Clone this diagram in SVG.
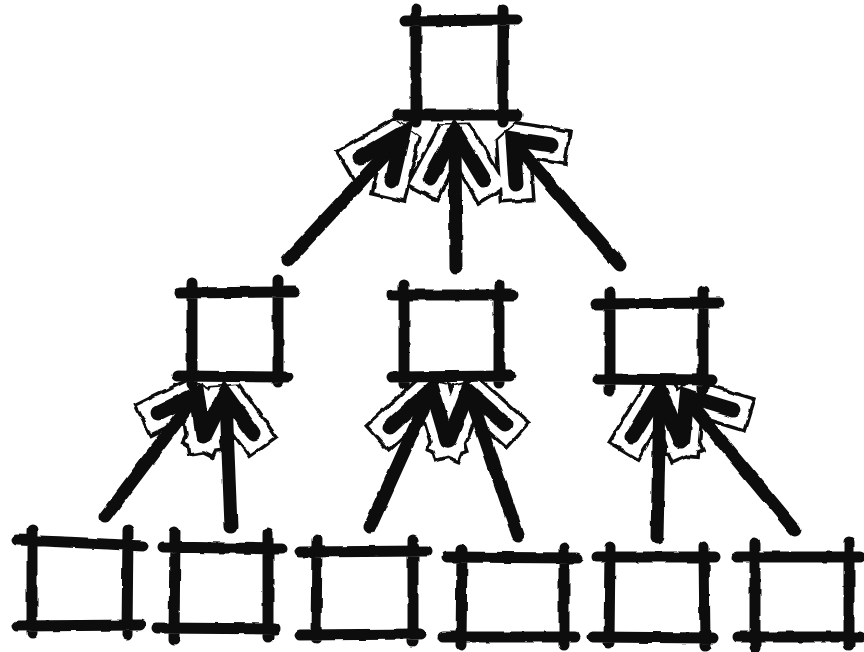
<svg xmlns="http://www.w3.org/2000/svg" width="864" height="652" viewBox="0 0 864 652">
  <defs>
    <!-- slight wobble so strokes read as ink drawn by hand -->
    <filter id="ink" filterUnits="userSpaceOnUse" x="0" y="0" width="864" height="652">
      <feTurbulence type="fractalNoise" baseFrequency="0.06" numOctaves="2" seed="7" result="noise"/>
      <feDisplacementMap in="SourceGraphic" in2="noise" scale="3.5" xChannelSelector="R" yChannelSelector="G"/>
    </filter>
    <filter id="rough" filterUnits="userSpaceOnUse" x="0" y="0" width="864" height="652">
      <feTurbulence type="fractalNoise" baseFrequency="0.07" numOctaves="2" seed="3" result="noise"/>
      <feDisplacementMap in="SourceGraphic" in2="noise" scale="4.5" xChannelSelector="R" yChannelSelector="G"/>
    </filter>
    <style>
      .box { fill: none; stroke: #111111; stroke-width: 11; stroke-linecap: round; }
      .shaft { fill: none; stroke: #111111; stroke-width: 13; stroke-linecap: round; }
      .head { fill: none; stroke: #111111; stroke-width: 15; stroke-linecap: round; stroke-linejoin: miter; stroke-miterlimit: 3; }
      .halo-o { fill: none; stroke: #111111; stroke-width: 37; stroke-linecap: square; stroke-linejoin: bevel; }
      .halo-i { fill: none; stroke: #ffffff; stroke-width: 30; stroke-linecap: square; stroke-linejoin: bevel; }
    </style>
  </defs>

  <rect x="0" y="0" width="864" height="652" fill="#ffffff"/>

  <!-- connectors: arrows pointing from children up to parents -->
  <g id="connectors">
    <!-- white cut-out outlines behind the arrowheads -->
    <g id="halos" filter="url(#rough)">
      <path class="halo-o" d="M360,158 L403,133 L392,181 M430,178 L455,132 L484,180 M551,145 L513,139 L516,184"/>
      <path class="halo-o" d="M158,413 L197,394 L203,436 M205,435 L225,394 L253,433"/>
      <path class="halo-o" d="M390,427 L432,389 L447,440 M449,440 L468,391 L505,424"/>
      <path class="halo-o" d="M632,437 L660,391 L681,441 M733,410 L687,396 L683,439"/>
      <path class="halo-i" d="M360,158 L403,133 L392,181 M430,178 L455,132 L484,180 M551,145 L513,139 L516,184"/>
      <path class="halo-i" d="M158,413 L197,394 L203,436 M205,435 L225,394 L253,433"/>
      <path class="halo-i" d="M390,427 L432,389 L447,440 M449,440 L468,391 L505,424"/>
      <path class="halo-i" d="M632,437 L660,391 L681,441 M733,410 L687,396 L683,439"/>
    </g>
    <g id="arrows" filter="url(#ink)">
      <!-- middle row to top -->
      <path class="shaft" d="M288,260 L398,141"/>
      <path class="head" d="M360,158 L403,133 L392,181"/>
      <path class="shaft" d="M456,268 L455,140"/>
      <path class="head" d="M430,178 L455,132 L484,180"/>
      <path class="shaft" d="M620,265 L517,146"/>
      <path class="head" d="M551,145 L513,139 L516,184"/>
      <!-- leaves to left middle -->
      <path class="shaft" d="M105,517 L193,400"/>
      <path class="head" d="M158,413 L197,394 L203,436"/>
      <path class="shaft" d="M231,527 L226,400"/>
      <path class="head" d="M205,435 L225,394 L253,433"/>
      <!-- leaves to centre middle -->
      <path class="shaft" d="M370,527 L429,396"/>
      <path class="head" d="M390,427 L432,389 L447,440"/>
      <path class="shaft" d="M518,535 L471,398"/>
      <path class="head" d="M449,440 L468,391 L505,424"/>
      <!-- leaves to right middle -->
      <path class="shaft" d="M657,537 L660,398"/>
      <path class="head" d="M632,437 L660,391 L681,441"/>
      <path class="shaft" d="M795,530 Q745,470 689,402"/>
      <path class="head" d="M733,410 L687,396 L683,439"/>
    </g>
  </g>

  <!-- nodes: squares with overshooting corners -->
  <g id="nodes" filter="url(#ink)">
    <g id="n-top"><path class="box" d="M405,21 L517,20 M397,115 L517,115 M416,9 L416,122 M503,9 L503,122"/></g>

    <g id="n-mid-1"><path class="box" d="M180,293 L295,292 M177,376 L288,377 M192,283 L192,384 M278,280 L278,381"/></g>
    <g id="n-mid-2"><path class="box" d="M392,295 L513,295 M392,377 L510,376 M404,285 L404,384 M499,285 L499,383"/></g>
    <g id="n-mid-3"><path class="box" d="M597,304 L720,303 M598,379 L712,380 M610,292 L610,391 M703,291 L703,389"/></g>

    <g id="n-leaf-1"><path class="box" d="M17,540 Q70,542 143,546 M17,626 L140,625 M32,530 L32,633 M128,530 L127,635"/></g>
    <g id="n-leaf-2"><path class="box" d="M163,547 L282,549 M157,628 L275,629 M175,532 L174,640 M268,533 L268,637"/></g>
    <g id="n-leaf-3"><path class="box" d="M300,552 L427,551 M300,635 L420,634 M317,540 L316,638 M413,540 L413,641"/></g>
    <g id="n-leaf-4"><path class="box" d="M447,557 L578,558 M443,637 L575,637 M462,550 L461,645 M564,548 L564,645"/></g>
    <g id="n-leaf-5"><path class="box" d="M597,557 L715,557 M593,637 L713,638 M610,547 L609,643 M704,547 L705,646"/></g>
    <g id="n-leaf-6"><path class="box" d="M737,557 L860,557 M738,637 L860,637 M755,543 L755,647 M849,542 L849,645"/></g>
  </g>
</svg>
